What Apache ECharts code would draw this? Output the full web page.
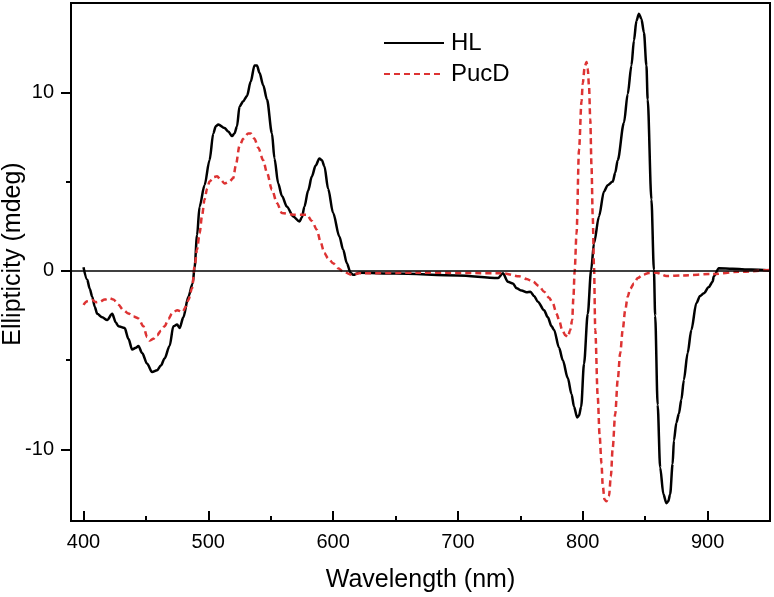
<!DOCTYPE html>
<html>
<head>
<meta charset="utf-8">
<script src="https://cdn.jsdelivr.net/npm/echarts@6/dist/echarts.min.js"></script>
<style>
  html, body { margin: 0; padding: 0; background: #fff; }
  #chart_cd { width: 774px; height: 597px; }
</style>
</head>
<body>
<div id="chart_cd"></div>
<script>
// HL spectrum (black, solid)
var hlWave = [400, 403, 405, 407, 409, 411, 415, 419, 423, 426, 428, 433, 436, 439, 442, 444, 447, 451, 455, 459,
  462, 465, 469, 472, 475, 477, 480, 484, 487.5, 489, 491, 493, 497, 501, 504, 506, 508, 513, 516, 519,
  521, 523, 525, 528, 531, 534, 537, 539, 541, 544, 547, 551, 553, 556, 559, 563, 568, 573, 575, 577,
  580, 583, 586, 589, 591, 593, 596, 600, 605, 608, 611, 614, 616, 621, 650, 700, 732, 736, 740, 744,
  747, 751, 755, 758, 761, 764, 769, 772, 775, 777, 781, 784, 788, 791, 793, 795.5, 797, 798.7, 801, 804,
  806.7, 809, 813, 817, 820, 824, 826, 828, 833, 836, 839, 841, 843, 845, 847, 849, 851, 852, 855, 857,
  858, 860, 862, 864.6, 867, 868.5, 870, 872, 873, 875, 877, 879, 881, 884, 887, 891, 894, 897, 901, 904,
  905, 909, 920, 935, 950];
var hlVal = [0.2, -0.5, -1.0, -1.44, -2.0, -2.4, -2.6, -2.75, -2.4, -2.9, -3.1, -3.2, -3.8, -4.4, -4.3, -4.2, -4.6, -5.2, -5.66, -5.56,
  -5.3, -4.9, -4.2, -3.1, -3.0, -3.2, -2.6, -1.44, -0.7, 0.2, 2.0, 3.6, 4.8, 6.2, 7.7, 8.1, 8.2, 8.0, 7.8, 7.55,
  7.7, 8.1, 9.2, 9.5, 9.8, 10.6, 11.5, 11.5, 11.1, 10.4, 9.6, 7.7, 6.3, 4.9, 4.2, 3.6, 3.05, 2.77, 3.0, 3.6,
  4.5, 5.3, 5.9, 6.3, 6.2, 5.86, 4.6, 3.24, 1.93, 1.2, 0.43, -0.1, -0.22, -0.1, -0.15, -0.25, -0.4, -0.13, -0.6, -0.7,
  -0.97, -1.1, -1.2, -1.16, -1.4, -1.72, -2.2, -2.6, -3.1, -3.3, -4.3, -5.0, -6.0, -6.9, -7.6, -8.2, -8.1, -7.6, -5.2, -2.4,
  0.05, 1.55, 3.05, 4.45, 4.8, 5.0, 5.5, 6.2, 8.3, 9.9, 11.5, 12.9, 14.0, 14.4, 14.1, 13.35, 11.5, 9.6, 4.0, 0.05,
  -2.5, -7.5, -11.0, -12.5, -13.0, -12.9, -12.5, -10.8, -9.5, -8.5, -8.0, -7.2, -6.1, -4.6, -3.3, -1.8, -1.4, -1.25, -0.9, -0.6,
  -0.3, 0.15, 0.12, 0.08, 0.02];

// PucD spectrum (red, dashed)
var pucWave = [400, 403, 407, 410, 413, 417, 421, 424, 428, 432, 436, 440, 444, 448, 451, 453, 456, 459, 462, 465,
  468, 471, 475, 479.5, 482, 484, 487, 489, 491, 493, 495, 497, 499, 501, 504, 507, 510, 513, 517, 520,
  522, 525, 528, 532, 534, 537, 540, 544, 547, 551, 555, 559, 568, 579, 583, 587, 590, 593, 596, 600,
  604, 608, 615, 621, 669, 736, 749, 755, 760, 765, 769, 773, 776, 779, 781, 783.5, 786, 788, 790, 791.5,
  792.5, 793.5, 795, 797, 799, 800, 801.5, 803, 804, 805, 806, 807, 808, 809, 810, 812, 813.5, 815, 816, 817.4,
  819, 821, 822.5, 824, 826, 828, 830, 832, 834, 836, 838, 841, 844, 848, 853, 859, 867, 880, 904, 925, 950];
var pucVal = [-1.9, -1.7, -1.63, -1.75, -1.72, -1.6, -1.53, -1.6, -1.9, -2.2, -2.38, -2.55, -2.66, -3.1, -3.7, -3.9, -3.8, -3.6, -3.35, -3.1,
  -2.7, -2.38, -2.2, -2.3, -2.0, -1.63, -0.97, 0.24, 1.2, 2.1, 3.1, 4.0, 4.6, 5.0, 5.25, 5.3, 5.1, 4.9, 5.0, 5.2,
  5.9, 7.0, 7.4, 7.7, 7.7, 7.4, 6.9, 6.2, 5.5, 4.55, 3.8, 3.24, 3.15, 3.15, 2.8, 2.3, 1.6, 1.0, 0.7, 0.43,
  0.15, -0.04, -0.22, -0.13, -0.1, -0.13, -0.3, -0.45, -0.6, -0.85, -1.16, -1.5, -1.8, -2.4, -2.75, -3.3, -3.6, -3.7, -3.3, -2.75,
  -1.5, 0, 2.1, 6.8, 9.5, 10.5, 11.4, 11.7, 11.3, 10.35, 8.5, 5.86, 3.0, 0.24, -3.3, -7.06, -9.2, -10.8, -12.0, -12.8,
  -12.9, -12.6, -11.5, -9.9, -8.0, -6.1, -4.6, -3.3, -2.2, -1.44, -1.0, -0.7, -0.4, -0.22, -0.12, -0.1, -0.28, -0.25, -0.17, -0.05, 0.05];

var xMajor = [400, 500, 600, 700, 800, 900];
var xMinor = [450, 550, 650, 750, 850];
var yMajor = [-10, 0, 10];
var yMinor = [-5, 5];

function pairs(xs, ys) {
  var out = [];
  for (var i = 0; i < xs.length; i++) out.push([xs[i], ys[i]]);
  return out;
}

var font = "Liberation Sans, Arial, sans-serif";
var myChart = echarts.init(document.getElementById("chart_cd"));

var option = {
  animation: false,
  grid: {
    left: 71, right: 4, top: 3, bottom: 76,
    outerBoundsMode: "none",
    containLabel: false,
    show: true,
    borderColor: "#000",
    borderWidth: 2
  },
  legend: {
    orient: "vertical",
    left: 383,
    top: 31,
    padding: 0,
    itemWidth: 60,
    itemHeight: 14,
    itemGap: 7,
    itemStyle: { opacity: 0 },
    textStyle: { fontFamily: font, fontSize: 24, color: "#000", padding: [0, 0, 0, 2] },
    data: ["HL", "PucD"]
  },
  xAxis: [
    {
      type: "value",
      min: 390, max: 950,
      name: "Wavelength (nm)",
      nameLocation: "middle",
      nameGap: 47,
      nameTextStyle: { fontFamily: font, fontSize: 25, color: "#000" },
      splitLine: { show: false },
      axisLine: { onZero: false, lineStyle: { color: "#000", width: 2 } },
      axisTick: { inside: true, length: 10, lineStyle: { color: "#000", width: 2 }, customValues: xMajor },
      axisLabel: { fontFamily: font, fontSize: 20, color: "#000", margin: 11, customValues: xMajor }
    },
    {
      // minor ticks only
      type: "value",
      min: 390, max: 950,
      position: "bottom",
      splitLine: { show: false },
      axisLine: { show: false, onZero: false },
      axisTick: { inside: true, length: 5, lineStyle: { color: "#000", width: 2 }, customValues: xMinor },
      axisLabel: { show: false }
    }
  ],
  yAxis: [
    {
      type: "value",
      min: -14, max: 15,
      name: "Ellipticity (mdeg)",
      nameLocation: "middle",
      nameGap: 45,
      nameMoveOverlap: false,
      nameTextStyle: { fontFamily: font, fontSize: 25, color: "#000", padding: [0, 0, 0, 16] },
      splitLine: { show: false },
      axisLine: { show: true, onZero: false, lineStyle: { color: "#000", width: 2 } },
      axisTick: { length: 10, lineStyle: { color: "#000", width: 2 }, customValues: yMajor },
      axisLabel: { fontFamily: font, fontSize: 20, color: "#000", margin: 17, customValues: yMajor }
    },
    {
      type: "value",
      min: -14, max: 15,
      position: "left",
      splitLine: { show: false },
      axisLine: { show: false, onZero: false },
      axisTick: { length: 5, lineStyle: { color: "#000", width: 2 }, customValues: yMinor },
      axisLabel: { show: false }
    }
  ],
  series: [
    {
      name: "HL",
      type: "line",
      data: pairs(hlWave, hlVal),
      showSymbol: false,
      symbol: "none",
      smooth: 0.3,
      smoothMonotone: "x",
      lineStyle: { color: "#000", width: 2.5 },
      itemStyle: { color: "#000" },
      z: 3,
      markLine: {
        silent: true,
        symbol: "none",
        label: { show: false },
        lineStyle: { color: "#000", width: 1.5, type: "solid" },
        data: [{ yAxis: 0 }]
      }
    },
    {
      name: "PucD",
      type: "line",
      data: pairs(pucWave, pucVal),
      showSymbol: false,
      symbol: "none",
      smooth: 0.3,
      smoothMonotone: "x",
      lineStyle: { color: "#dd3333", width: 2.5, type: [6, 4] },
      itemStyle: { color: "#dd3333" },
      z: 4
    }
  ]
};
myChart.setOption(option);
</script>
</body>
</html>
